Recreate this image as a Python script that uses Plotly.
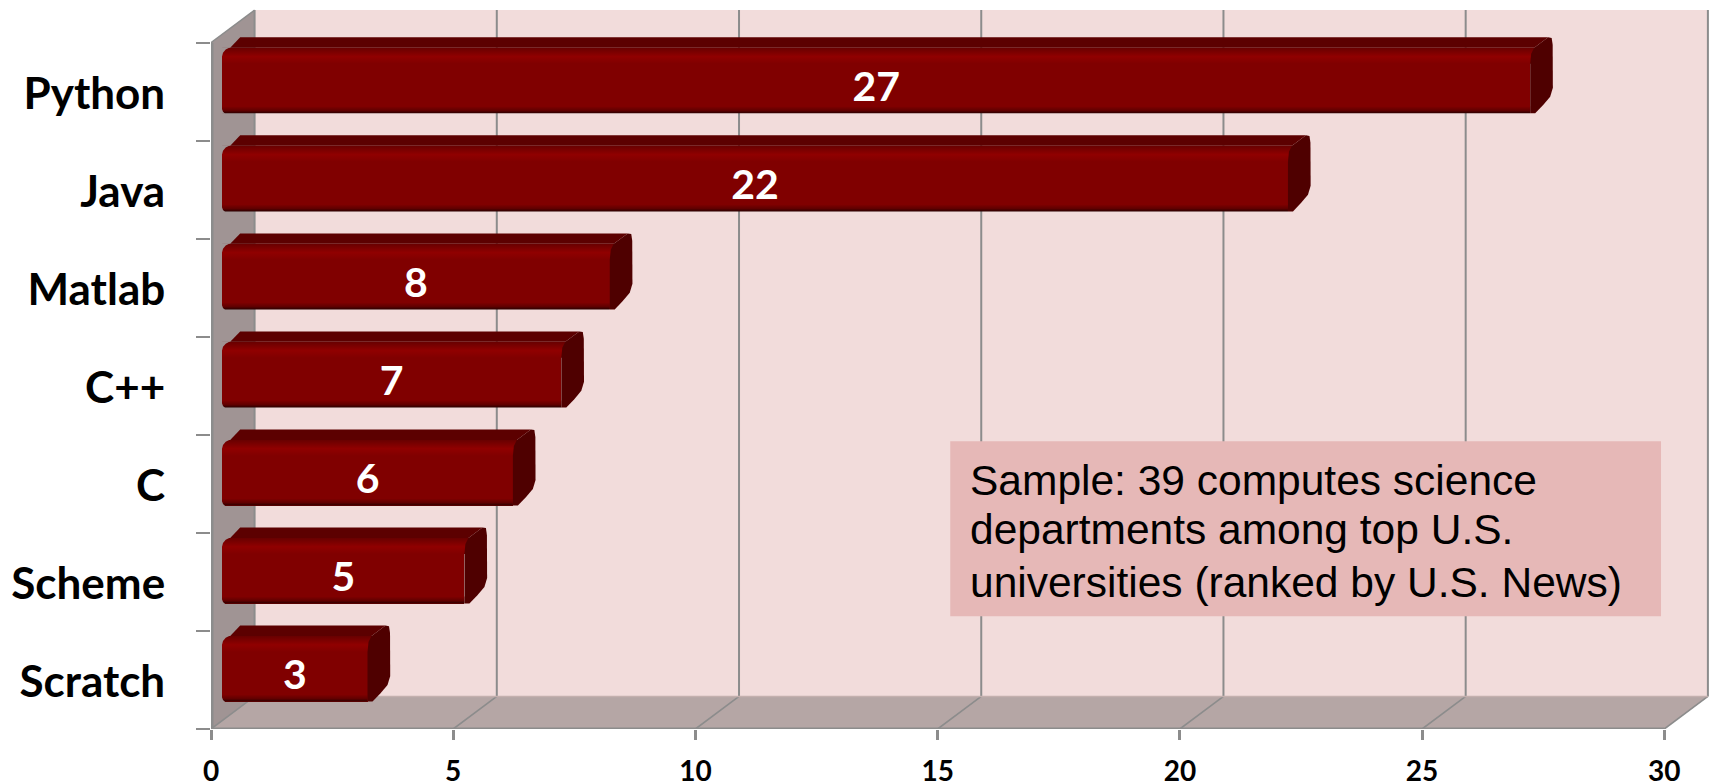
import plotly.graph_objects as go

categories = ["Python", "Java", "Matlab", "C++", "C", "Scheme", "Scratch"]
values = [27, 22, 8, 7, 6, 5, 3]
x_ticks = [0, 5, 10, 15, 20, 25, 30]
note_lines = ["Sample: 39 computes science", "departments among top U.S.", "universities (ranked by U.S. News)"]

# Plot-box geometry: 0 at px 210.5, 30 at px 1664.3; seven bands, 98 px tall
W, H = 1712, 782
ML, MB, MT = 210.5, 53.3, 5.0
PX_X = 48.46
PX_Y = 98.0
X_MAX = (W - ML) / PX_X
Y_MAX = (H - MB - MT) / PX_Y
DEPTH_X = 43.6 / PX_X
DEPTH_Y = 32.6 / PX_Y

WALL = "#F2DCDB"
SIDE = "#A09494"
FLOOR = "#B5A6A5"
GRID = "#8C8C8C"
FACE = "#800000"
TOP = "#5C0000"
END = "#4F0000"
NOTE = "#E6B8B7"
FONT = "Lato"

n = len(categories)
y_centres = [n - 0.5 - i for i in range(n)]
bar_base = 11.2 / PX_X
bar_offset = -21.6 / PX_Y
bar_width = 65.6 / PX_Y


def poly(pts):
    return "M " + " L ".join(f"{x:.4f},{y:.4f}" for x, y in pts) + " Z"


def to_y(px):
    return (H - MB - px) / PX_Y


def to_x(px):
    return (px - ML) / PX_X


shapes = [
    dict(type="path", layer="below", xref="x", yref="y", fillcolor=WALL, line_width=0,
         path=poly([(DEPTH_X, DEPTH_Y), (30 + DEPTH_X, DEPTH_Y), (30 + DEPTH_X, n + DEPTH_Y), (DEPTH_X, n + DEPTH_Y)])),
    dict(type="path", layer="below", xref="x", yref="y", fillcolor=FLOOR, line_width=0,
         path=poly([(0, 0), (30, 0), (30 + DEPTH_X, DEPTH_Y), (DEPTH_X, DEPTH_Y)])),
    dict(type="path", layer="below", xref="x", yref="y", fillcolor=SIDE, line_width=0,
         path=poly([(0, 0), (DEPTH_X, DEPTH_Y), (DEPTH_X, n + DEPTH_Y), (0, n)])),
]
for t in x_ticks:
    shapes.append(dict(type="line", layer="below", xref="x", yref="y", x0=t + DEPTH_X, x1=t + DEPTH_X,
                       y0=DEPTH_Y, y1=n + DEPTH_Y, line=dict(color=GRID, width=2)))
    shapes.append(dict(type="line", layer="below", xref="x", yref="y", x0=t, x1=t + DEPTH_X,
                       y0=0, y1=DEPTH_Y, line=dict(color=GRID, width=1.6)))
shapes += [
    dict(type="line", layer="below", xref="x", yref="y", x0=0, x1=30, y0=0, y1=0, line=dict(color=GRID, width=3)),
    dict(type="line", layer="below", xref="x", yref="y", x0=0, x1=0, y0=0, y1=n, line=dict(color=GRID, width=5)),
    dict(type="line", layer="below", xref="x", yref="y", x0=0, x1=DEPTH_X, y0=n, y1=n + DEPTH_Y, line=dict(color=GRID, width=1.4)),
    dict(type="line", layer="below", xref="x", yref="y", x0=DEPTH_X, x1=30 + DEPTH_X, y0=DEPTH_Y, y1=DEPTH_Y, line=dict(color="#C4B0AE", width=1.5)),
    dict(type="rect", layer="below", xref="x", yref="y", x0=to_x(950), x1=to_x(1661), y0=to_y(441), y1=to_y(616),
         fillcolor=NOTE, line_width=0),
]

fig = go.Figure()
fig.add_bar(
    y=y_centres, x=values, base=bar_base, orientation="h", width=bar_width, offset=bar_offset,
    marker=dict(color=FACE, line_width=0),
    cliponaxis=False, showlegend=False, hoverinfo="skip",
)


def add_fill(pts, color=None, gradient=None):
    kw = dict(fillcolor=color) if gradient is None else dict(fillgradient=gradient)
    fig.add_scatter(x=[p[0] for p in pts] + [pts[0][0]], y=[p[1] for p in pts] + [pts[0][1]],
                    mode="lines", line=dict(width=0), fill="toself", showlegend=False, hoverinfo="skip", **kw)


top_band = [[0, "#680000"], [0.55, "#900000"], [1, FACE]]
bot_band = [[0, FACE], [0.6, "#600000"], [1, "#2A0000"]]
for yc, v in zip(y_centres, values):
    bottom = yc + bar_offset
    top = bottom + bar_width
    x0 = bar_base
    x1 = bar_base + v
    # highlight and shadow bands on the front face
    t_low = top - 16 / PX_Y
    b_high = bottom + 7 / PX_Y
    add_fill([(x0, top), (x1 + 5 / PX_X, top), (x1 + 5 / PX_X, t_low), (x0, t_low)],
             gradient=dict(type="vertical", colorscale=top_band, start=top, stop=t_low))
    add_fill([(x0, b_high), (x1, b_high), (x1, bottom), (x0, bottom)],
             gradient=dict(type="vertical", colorscale=bot_band, start=b_high, stop=bottom))
    # top face
    add_fill([(x0 + 8 / PX_X, top), (x0 + 18 / PX_X, top + 10.4 / PX_Y), (x1 + 18 / PX_X, top + 10.4 / PX_Y),
              (x1 + 4 / PX_X, top)], color=TOP)
    # end face
    add_fill([(x1, top - 16 / PX_Y), (x1 + 1 / PX_X, top - 6 / PX_Y), (x1 + 4 / PX_X, top), (x1 + 18 / PX_X, top + 10.4 / PX_Y),
              (x1 + 21.5 / PX_X, top + 9.8 / PX_Y), (x1 + 22.5 / PX_X, top + 3 / PX_Y), (x1 + 22.7 / PX_X, top - 40 / PX_Y),
              (x1 + 20 / PX_X, top - 49 / PX_Y), (x1 + 13 / PX_X, top - 57.3 / PX_Y),
              (x1 + 5 / PX_X, bottom), (x1, bottom)], color=END)
    # rounded left corners of the face
    add_fill([(x0 - 0.5 / PX_X, top + 0.5 / PX_Y), (x0 - 0.5 / PX_X, top - 10 / PX_Y), (x0 + 0.8 / PX_X, top - 5 / PX_Y),
              (x0 + 3.5 / PX_X, top - 1.8 / PX_Y), (x0 + 8 / PX_X, top + 0.5 / PX_Y)], color=SIDE)
    add_fill([(x0 - 0.5 / PX_X, bottom - 0.5 / PX_Y), (x0 - 0.5 / PX_X, bottom + 5 / PX_Y), (x0 + 0.8 / PX_X, bottom + 1.5 / PX_Y),
              (x0 + 3 / PX_X, bottom - 0.5 / PX_Y)], color=SIDE)

# value labels
fig.add_scatter(
    x=[bar_base + v / 2 for v in values], y=[yc + bar_offset + bar_width / 2 - 10 / PX_Y for yc in y_centres],
    mode="text", text=[str(v) for v in values], textposition="middle center",
    textfont=dict(family=FONT, size=41, color="white", weight="bold"),
    showlegend=False, hoverinfo="skip",
)

for line, py in zip(note_lines, [480, 529, 582]):
    fig.add_annotation(xref="x", yref="y", x=to_x(968), y=to_y(py), xanchor="left", yanchor="middle",
                       text=line, showarrow=False, align="left",
                       font=dict(family="Liberation Sans", size=42.5, color="#000000"))

LABEL_SHIFT = 2.0 / PX_Y
fig.update_layout(
    width=W, height=H, autosize=False, showlegend=False,
    margin=dict(l=ML, r=0, t=MT, b=MB, pad=0, autoexpand=False),
    paper_bgcolor="white", plot_bgcolor="white",
    shapes=shapes, bargap=0,
    xaxis=dict(range=[0, X_MAX], tickvals=x_ticks, ticktext=[str(t) for t in x_ticks], showgrid=False, zeroline=False,
               showline=False, ticks="outside", ticklen=10, tickwidth=2.5, tickcolor=GRID,
               ticklabelstandoff=7, tickfont=dict(family=FONT, size=28, color="#000000", weight="bold")),
    yaxis=dict(range=[0, Y_MAX], tickvals=[c - LABEL_SHIFT for c in y_centres], ticktext=categories, showgrid=False, zeroline=False,
               showline=False, ticks="outside", ticklen=0, tickwidth=0, ticklabelstandoff=36,
               tickfont=dict(family=FONT, size=44, color="#000000", weight="bold"),
               minor=dict(tickvals=list(range(n + 1)), ticks="outside", ticklen=14, tickwidth=2, tickcolor=GRID, showgrid=False)),
)

fig.write_html("out.html", config={"displayModeBar": False},
               post_script="document.body.style.margin='0';document.documentElement.style.overflow='hidden';")
